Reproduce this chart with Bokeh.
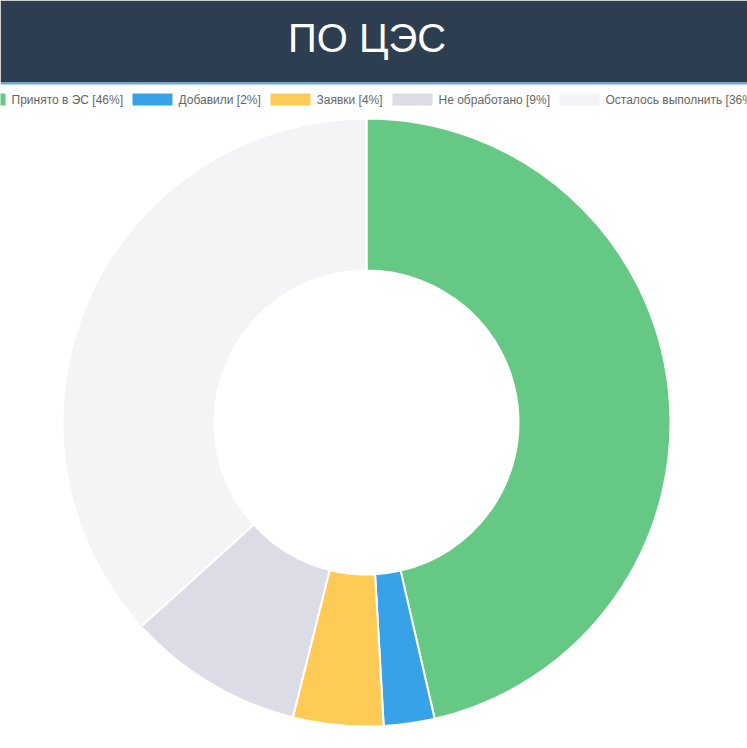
import math
from bokeh.plotting import figure
from bokeh.models import Range1d, ColumnDataSource
from bokeh.core.properties import value
from bokeh.embed import file_html
from bokeh.resources import INLINE

# ---- data ----
title = "ПО ЦЭС"
categories = ["Принято в ЭС", "Добавили", "Заявки", "Не обработано", "Осталось выполнить"]
shares = [46.4, 2.7, 4.8, 9.4, 36.7]
colors = ["#65C884", "#38A2E8", "#FFCB57", "#DCDCE6", "#F4F4F7"]

# ---- layout ----
W, H = 747, 748
cx, cy = 366, H - 422
r_out, r_in = 304, 152
header_h = 82

p = figure(width=W, height=H, x_range=Range1d(0, W), y_range=Range1d(0, H),
           x_axis_location=None, y_axis_location=None, toolbar_location=None,
           output_backend="svg", min_border=0, outline_line_color=None,
           background_fill_color="white", border_fill_color="white")
p.grid.visible = False

# donut slices
total = sum(shares)
starts, ends = [], []
acc = 0.0
for s in shares:
    starts.append(math.pi / 2 - acc / total * 2 * math.pi)
    acc += s
    ends.append(math.pi / 2 - acc / total * 2 * math.pi)
src = ColumnDataSource(dict(start=starts, end=ends, color=colors))
p.annular_wedge(x=cx, y=cy, inner_radius=r_in, outer_radius=r_out,
                start_angle="start", end_angle="end", direction="clock",
                fill_color="color", line_color="white", line_width=2, source=src)

# header
p.quad(left=0, right=W, bottom=H - header_h, top=H, fill_color="#2C3E50", line_color=None)
p.quad(left=0, right=W, bottom=H - header_h - 2, top=H - header_h, fill_color="#5DADE2", line_color=None)
p.text(x=[W / 2 - 7], y=[H - 37], text=[title], text_color="white",
       text_font=value("Liberation Sans"), text_font_size="40px",
       text_align="center", text_baseline="middle")

# legend
labels = [f"{c} [{int(s)}%]" for c, s in zip(categories, shares)]
box_x = [-35, 132, 270, 392, 559]
ly = H - 99
lsrc = ColumnDataSource(dict(l=box_x, r=[b + 40 for b in box_x], color=colors,
                             tx=[b + 46 for b in box_x], label=labels))
p.quad(left="l", right="r", bottom=ly - 6, top=ly + 6, fill_color="color",
       line_color=None, source=lsrc)
p.text(x="tx", y=ly, text="label", text_color="#666666", text_font=value("Liberation Sans"),
       text_font_size="12px", text_baseline="middle", source=lsrc)

open("out.html", "w").write(file_html(p, INLINE))
